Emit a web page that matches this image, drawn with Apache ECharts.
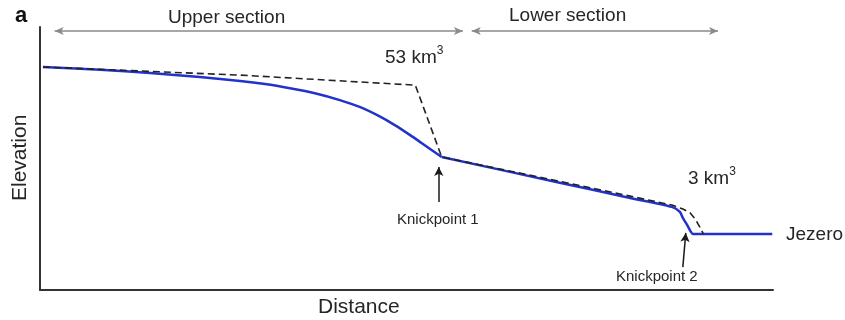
<!DOCTYPE html>
<html>
<head>
<meta charset="utf-8">
<script src="https://cdn.jsdelivr.net/npm/echarts@6/dist/echarts.min.js"></script>
<style>
html,body{margin:0;padding:0;background:#fff;}
#c{width:845px;height:320px;}
</style>
</head>
<body>
<div id="c"></div>
<script>
// Present-day profile (blue): upper reach down to knickpoint 1
const upperDistance = [0.4, 8.2, 15.0, 21.8, 27.3, 30.7, 34.1, 37.5, 40.9, 43.7, 46.4, 48.4, 50.5, 52.1, 54.8];
const upperElevation = [84.8, 83.7, 82.5, 81.0, 79.5, 78.3, 76.7, 74.8, 72.2, 69.5, 65.9, 62.7, 58.9, 55.8, 50.6];
// Present-day profile (blue): lower reach from knickpoint 1 to Jezero
const lowerDistance = [54.8, 70.9, 80.5, 86.2, 87.3, 87.7, 88.3, 88.8, 89.1, 99.9];
const lowerElevation = [50.6, 40.8, 35.0, 31.6, 29.7, 27.4, 24.7, 22.1, 21.3, 21.3];
// Reconstructed profile (dashed)
const reconDistance = [0.4, 27.3, 51.2, 54.8, 70.9, 80.5, 86.2, 87.7, 88.7, 89.4, 90.0, 90.5];
const reconElevation = [84.8, 81.7, 77.9, 50.6, 41.3, 35.7, 32.3, 30.8, 29.3, 27.0, 24.0, 21.3];
// Annotations
const sections = [
  {name: 'Upper section', from: 2.0, to: 57.7},
  {name: 'Lower section', from: 58.9, to: 92.5}
];
const knickpoints = [
  {name: 'Knickpoint 1', x0: 54.4, y0: 33.5, x1: 54.4, y1: 46.8},
  {name: 'Knickpoint 2', x0: 87.7, y0: 8.7, x1: 88.1, y1: 21.7}
];
const volumes = ['53', '3'];

const zip = (a, b) => a.map((v, i) => [v, b[i]]);

const chart = echarts.init(document.getElementById('c'), null, {renderer: 'canvas'});
const FONT = 'Liberation Sans, Arial, sans-serif';
const TXT = '#262626';
const BLUE = '#2233cc';

const markData = [];
sections.forEach(s => {
  markData.push([
    {coord: [s.from, 98.5], symbol: 'arrow', symbolSize: [6, 9], lineStyle: {color: '#8a8a8a', width: 1.5, type: 'solid'}},
    {coord: [s.to, 98.5], symbol: 'arrow', symbolSize: [6, 9]}
  ]);
});
knickpoints.forEach(k => {
  markData.push([
    {coord: [k.x0, k.y0], symbol: 'none', lineStyle: {color: '#1a1a1a', width: 1.5, type: 'solid'}},
    {coord: [k.x1, k.y1], symbol: 'arrow', symbolSize: [7, 9]}
  ]);
});

function volText(v, left, top) {
  return {
    type: 'text', left: left, top: top,
    style: {
      text: '{n|' + v + ' km}{s|3}',
      rich: {
        n: {fontSize: 19, fontFamily: FONT, fill: TXT, verticalAlign: 'bottom', lineHeight: 22},
        s: {fontSize: 12, fontFamily: FONT, fill: TXT, verticalAlign: 'top', lineHeight: 22}
      }
    }
  };
}

chart.setOption({
  animation: false,
  backgroundColor: '#fff',
  grid: {left: 40, right: 72, top: 27, bottom: 30},
  xAxis: {
    type: 'value', min: 0, max: 100,
    axisLine: {show: true, lineStyle: {color: '#333', width: 2}},
    axisTick: {show: false}, axisLabel: {show: false}, splitLine: {show: false}
  },
  yAxis: {
    type: 'value', min: 0, max: 100,
    axisLine: {show: true, lineStyle: {color: '#333', width: 2}},
    axisTick: {show: false}, axisLabel: {show: false}, splitLine: {show: false}
  },
  series: [
    {
      type: 'line', name: 'reconstructed', data: zip(reconDistance, reconElevation),
      showSymbol: false, symbol: 'none', silent: true, z: 3,
      lineStyle: {color: '#222', width: 1.6, type: [7, 4]}
    },
    {
      type: 'line', name: 'profile upper', data: zip(upperDistance, upperElevation),
      showSymbol: false, symbol: 'none', silent: true, z: 2,
      smooth: 0.3,
      lineStyle: {color: BLUE, width: 2.5}
    },
    {
      type: 'line', name: 'profile lower', data: zip(lowerDistance, lowerElevation),
      showSymbol: false, symbol: 'none', silent: true, z: 2,
      smooth: 0.25,
      lineStyle: {color: BLUE, width: 2.5},
      markLine: {
        silent: true, animation: false, label: {show: false},
        emphasis: {disabled: true},
        data: markData
      }
    }
  ],
  graphic: [
    {type: 'text', left: 15, top: 5, style: {text: 'a', fontSize: 22, fontWeight: 'bold', fontFamily: FONT, fill: '#111'}},
    {type: 'text', left: 168, top: 8, style: {text: sections[0].name, fontSize: 19, fontFamily: FONT, fill: TXT}},
    {type: 'text', left: 509, top: 6, style: {text: sections[1].name, fontSize: 19, fontFamily: FONT, fill: TXT}},
    volText(volumes[0], 385, 45),
    volText(volumes[1], 688, 166),
    {type: 'text', left: 786, top: 225, style: {text: 'Jezero', fontSize: 19, fontFamily: FONT, fill: TXT}},
    {type: 'text', left: 397, top: 212, style: {text: knickpoints[0].name, fontSize: 15, fontFamily: FONT, fill: TXT}},
    {type: 'text', left: 616, top: 269, style: {text: knickpoints[1].name, fontSize: 15, fontFamily: FONT, fill: TXT}},
    {type: 'text', left: 318, top: 297, style: {text: 'Distance', fontSize: 21, fontFamily: FONT, fill: TXT}},
    {type: 'text', x: 10, y: 201, rotation: Math.PI / 2, style: {text: 'Elevation', fontSize: 21, fontFamily: FONT, fill: TXT}}
  ]
});
</script>
</body>
</html>
